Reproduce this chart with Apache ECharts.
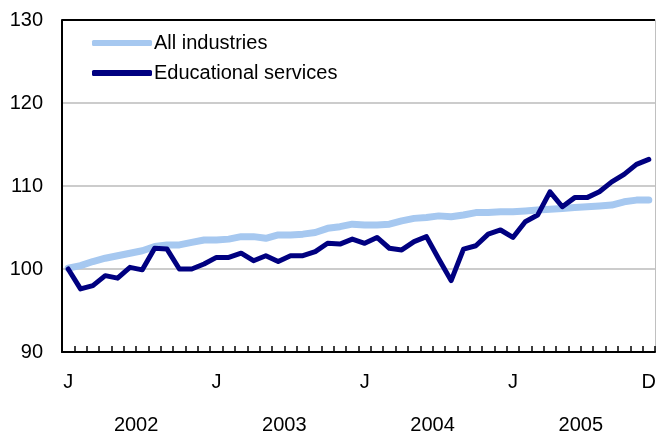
<!DOCTYPE html>
<html>
<head>
<meta charset="utf-8">
<script src="https://cdn.jsdelivr.net/npm/echarts@6/dist/echarts.min.js"></script>
<style>
html,body{margin:0;padding:0;background:#fff;}
#chart{width:659px;height:435px;}
</style>
</head>
<body>
<div id="chart"></div>
<script>
var months = [];
var years = ['2002','2003','2004','2005'];
var monthNames = ['Jan','Feb','Mar','Apr','May','Jun','Jul','Aug','Sep','Oct','Nov','Dec'];
years.forEach(function(y){ monthNames.forEach(function(m){ months.push(m + ' ' + y); }); });

var allIndustries = [100.1,100.4,100.9,101.3,101.6,101.9,102.2,102.7,102.9,102.9,103.2,103.5,
103.5,103.6,103.9,103.9,103.7,104.1,104.1,104.2,104.4,104.9,105.1,105.4,
105.3,105.3,105.4,105.8,106.1,106.2,106.4,106.3,106.5,106.8,106.8,106.9,
106.9,107.0,107.1,107.2,107.3,107.4,107.5,107.6,107.7,108.1,108.3,108.3];

var educational = [100.0,97.6,98.0,99.2,98.9,100.2,99.9,102.5,102.4,100.0,100.0,100.6,
101.4,101.4,101.9,101.0,101.6,100.9,101.6,101.6,102.1,103.1,103.0,103.6,
103.1,103.8,102.5,102.3,103.3,103.9,101.2,98.6,102.4,102.8,104.2,104.7,
103.8,105.7,106.5,109.3,107.5,108.6,108.6,109.3,110.5,111.4,112.6,113.2];

var yTicks = [90, 100, 110, 120, 130];

var FONT = 'Liberation Sans, Arial, Helvetica, sans-serif';
var chart = echarts.init(document.getElementById('chart'), null, {renderer:'canvas'});
chart.setOption({
  animation: false,
  backgroundColor: '#fff',
  textStyle: {fontFamily: FONT},
  legend: {
    orient: 'vertical',
    left: 87, top: 28,
    itemWidth: 60, itemHeight: 6,
    itemGap: 10,
    icon: 'roundRect',
    textStyle: {fontSize: 20, color: '#000', fontFamily: FONT, padding: [0,0,0,-3]},
    data: ['All industries', 'Educational services']
  },
  grid: {left: 62, right: 2, top: 20, bottom: 82, containLabel: false},
  xAxis: [{
    type: 'category',
    data: months,
    boundaryGap: true,
    axisLine: {show: true, lineStyle: {color: '#000', width: 2}},
    axisTick: {show: true, inside: true, length: 6, interval: 0, lineStyle: {color: '#000', width: 1.5}},
    axisLabel: {
      interval: function(i){ return i % 12 === 0 || i === 47; },
      formatter: function(v){ return v.charAt(0); },
      fontSize: 20, color: '#000', margin: 20, fontFamily: FONT
    },
    splitLine: {show: false}
  }, {
    type: 'category',
    data: years,
    position: 'bottom',
    offset: 57,
    axisLine: {show: false},
    axisTick: {show: false},
    axisLabel: {fontSize: 20, color: '#000', margin: 6, fontFamily: FONT},
    splitLine: {show: false}
  }],
  yAxis: [{
    type: 'value',
    min: yTicks[0], max: yTicks[yTicks.length-1], interval: 10,
    axisLine: {show: true, lineStyle: {color: '#000', width: 2}},
    axisTick: {show: false},
    axisLabel: {fontSize: 20, color: '#000', margin: 19, fontFamily: FONT},
    splitLine: {show: true, lineStyle: {color: ['#cccccc','#cccccc','#cccccc','#cccccc','#000'], width: 2}}
  }, {
    type: 'value',
    position: 'right',
    min: yTicks[0], max: yTicks[yTicks.length-1], interval: 10,
    axisLine: {show: true, lineStyle: {color: '#c0c0c0', width: 1}},
    axisTick: {show: false},
    axisLabel: {show: false},
    splitLine: {show: false}
  }],
  series: [{
    name: 'All industries',
    type: 'line',
    data: allIndustries,
    showSymbol: false,
    symbol: 'none',
    itemStyle: {color: '#a6c8f0'},
    lineStyle: {color: '#a6c8f0', width: 7, cap: 'round', join: 'round'}
  }, {
    name: 'Educational services',
    type: 'line',
    data: educational,
    showSymbol: false,
    symbol: 'none',
    itemStyle: {color: '#000080'},
    lineStyle: {color: '#000080', width: 5, cap: 'round', join: 'round'}
  }]
});
</script>
</body>
</html>
